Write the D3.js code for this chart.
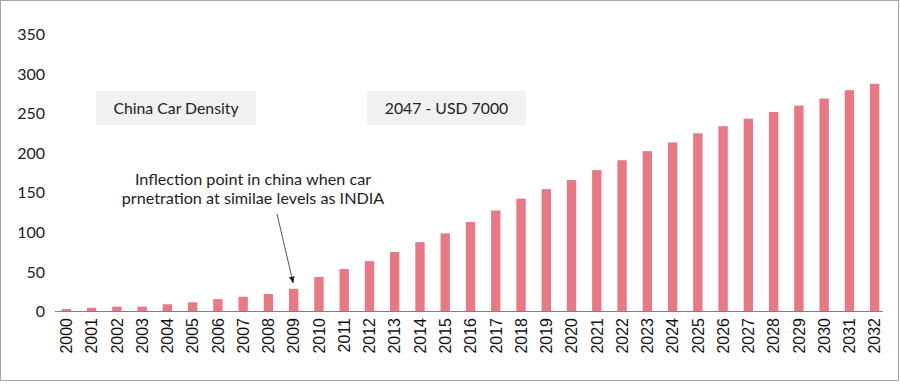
<!DOCTYPE html>
<html><head><meta charset="utf-8">
<script src="https://cdn.jsdelivr.net/npm/d3@7"></script>
<style>html,body{margin:0;padding:0;background:#fff;}svg{display:block;}</style>
</head><body>
<svg id="chart" width="900" height="384"></svg>
<script>
const years = ["2000","2001","2002","2003","2004","2005","2006","2007","2008","2009","2010","2011","2012","2013","2014","2015","2016","2017","2018","2019","2020","2021","2022","2023","2024","2025","2026","2027","2028","2029","2030","2031","2032"];
const density = [2.5,4,5.5,5.5,8.5,11,15,18,21.5,28,43,53,63,74.5,87,98,112.5,127,142,154,165.5,178,190.5,202,213,224.5,233.5,243,251.5,259.5,268.5,279,287];
const yTicks = [0,50,100,150,200,250,300,350];
const boxLabels = ["China Car Density","2047 - USD 7000"];
const noteLines = ["Inflection point in china when car","prnetration at similae levels as INDIA"];
const noteYear = "2009";

const svg = d3.select("#chart");
const uiFont = "Lato, 'Noto Sans', sans-serif";

svg.append("rect").attr("x",0.5).attr("y",0.5).attr("width",898).attr("height",380)
  .attr("fill","#fff").attr("stroke","#a6a6a6").attr("stroke-width",1);

const x = d3.scaleBand().domain(years).range([53.7, 887.3]).paddingInner(0.63).paddingOuter(0.315);
const y = d3.scaleLinear().domain([0,350]).range([311,34]);

// y axis labels
const yAxis = d3.axisLeft(y).tickValues(yTicks).tickSize(0).tickPadding(0);
const yg = svg.append("g").attr("transform","translate(45,0)").call(yAxis);
yg.select(".domain").remove();
yg.selectAll("text").attr("font-family",uiFont).attr("font-size",16).attr("fill","#222").attr("dy","0.35em");

// bars
svg.append("g").selectAll("rect").data(years).join("rect")
  .attr("x",d=>x(d)).attr("width",x.bandwidth())
  .attr("y",(d,i)=>y(density[i])).attr("height",(d,i)=>y(0)-y(density[i]))
  .attr("fill","#e97784");

// x axis
const xAxis = d3.axisBottom(x).tickSize(0).tickPadding(0);
const xg = svg.append("g").attr("transform",`translate(0,${y(0)})`).call(xAxis);
xg.select(".domain").remove();
xg.selectAll("text")
  .attr("font-family","'Liberation Sans', Arial, sans-serif").attr("font-size",16).attr("fill","#111")
  .attr("text-anchor","end").attr("transform","rotate(-90)")
  .attr("x",-7).attr("y",0).attr("dy","0.36em");
svg.append("line").attr("x1",55).attr("x2",883).attr("y1",y(0)+0.5).attr("y2",y(0)+0.5)
  .attr("stroke","#7f7f7f").attr("stroke-width",1);

// label boxes
const boxes = [{x:96,w:160},{x:367,w:159}];
boxLabels.forEach((t,i)=>{
  svg.append("rect").attr("x",boxes[i].x).attr("y",91).attr("width",boxes[i].w).attr("height",34).attr("fill","#f0f1f3");
  svg.append("text").attr("x",boxes[i].x+boxes[i].w/2).attr("y",113.5).attr("text-anchor","middle")
    .attr("font-family",uiFont).attr("font-size",15.8).attr("fill","#222").text(t);
});

// annotation
noteLines.forEach((t,i)=>{
  svg.append("text").attr("x",253).attr("y",185+i*19).attr("text-anchor","middle")
    .attr("font-family",uiFont).attr("font-size",16.2).attr("fill","#222").text(t);
});
svg.append("defs").append("marker").attr("id","ah").attr("viewBox","0 0 10 10").attr("refX",9).attr("refY",5)
  .attr("markerWidth",7).attr("markerHeight",7).attr("orient","auto")
  .append("path").attr("d","M0,1 L10,5 L0,9 Z").attr("fill","#222");
const tx = x(noteYear)+x.bandwidth()/2;
svg.append("line").attr("x1",277).attr("y1",214).attr("x2",tx-0.5).attr("y2",y(density[years.indexOf(noteYear)])-6)
  .attr("stroke","#555").attr("stroke-width",1).attr("marker-end","url(#ah)");
</script>
</body></html>
